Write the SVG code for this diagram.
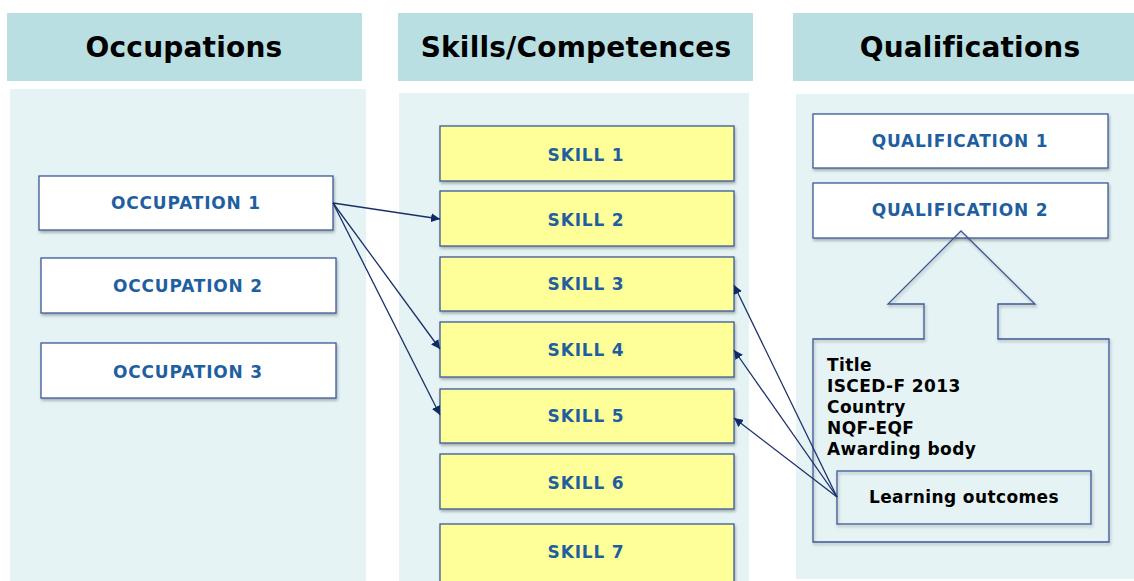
<svg xmlns="http://www.w3.org/2000/svg" width="1134" height="581" viewBox="0 0 1134 581">
<style>
.hdr{fill:#b9dfe2}
.hdrt{font-family:"DejaVu Sans",Verdana,sans-serif;font-weight:bold;font-size:28px;letter-spacing:0.2px;fill:#000;text-anchor:middle}
.panel{fill:#e6f3f4}
.box{fill:#fff;stroke:#3b5998;stroke-width:1.3}
.skill{fill:#ffff99;stroke:#3b5998;stroke-width:1.3}
.lbl{font-family:"DejaVu Sans",Verdana,sans-serif;font-weight:bold;font-size:17px;letter-spacing:0.8px;fill:#1f5f9f;text-anchor:middle}
.blk{font-family:"DejaVu Sans",Verdana,sans-serif;font-weight:bold;font-size:17px;letter-spacing:0.4px;fill:#000}
.conn{stroke:#1b2f6b;stroke-width:1.3;fill:none;marker-end:url(#ah)}
.outline{fill:none;stroke:#3b5998;stroke-width:1.3}
</style>
<defs>
<marker id="ah" viewBox="0 0 10 10" refX="10" refY="5" markerWidth="9" markerHeight="9" markerUnits="userSpaceOnUse" orient="auto">
<path d="M0,0 L10,5 L0,10 z" fill="#0f2a66"/>
</marker>
<filter id="sh" x="-5%" y="-10%" width="110%" height="130%">
<feDropShadow dx="1" dy="2" stdDeviation="1.5" flood-color="#000" flood-opacity="0.3"/>
</filter>
</defs>
<rect width="1134" height="581" fill="#fff"/>
<g id="columns">
<rect class="hdr" x="7" y="13" width="355" height="68"/>
<text class="hdrt" x="184" y="57">Occupations</text>
<rect class="hdr" x="398" y="13" width="355" height="68"/>
<text class="hdrt" x="576" y="57">Skills/Competences</text>
<rect class="hdr" x="793" y="13" width="341" height="68"/>
<text class="hdrt" x="970" y="57">Qualifications</text>
<rect class="panel" x="10" y="89" width="356" height="492"/>
<rect class="panel" x="399" y="93" width="350" height="488"/>
<rect class="panel" x="796" y="94" width="338" height="485"/>
</g>
<g id="occupation1"><rect class="box" filter="url(#sh)" x="39" y="176" width="294" height="54"/><text class="lbl" x="186" y="209">OCCUPATION 1</text></g>
<g id="occupation2"><rect class="box" filter="url(#sh)" x="41" y="258" width="295" height="55"/><text class="lbl" x="188" y="292">OCCUPATION 2</text></g>
<g id="occupation3"><rect class="box" filter="url(#sh)" x="41" y="343" width="295" height="55"/><text class="lbl" x="188" y="378">OCCUPATION 3</text></g>
<g id="skill1"><rect class="skill" filter="url(#sh)" x="440" y="126" width="294" height="55"/><text class="lbl" x="586" y="161">SKILL 1</text></g>
<g id="skill2"><rect class="skill" filter="url(#sh)" x="440" y="191" width="294" height="55"/><text class="lbl" x="586" y="226">SKILL 2</text></g>
<g id="skill3"><rect class="skill" filter="url(#sh)" x="440" y="257" width="294" height="54"/><text class="lbl" x="586" y="290">SKILL 3</text></g>
<g id="skill4"><rect class="skill" filter="url(#sh)" x="440" y="322" width="294" height="55"/><text class="lbl" x="586" y="356">SKILL 4</text></g>
<g id="skill5"><rect class="skill" filter="url(#sh)" x="440" y="389" width="294" height="54"/><text class="lbl" x="586" y="422">SKILL 5</text></g>
<g id="skill6"><rect class="skill" filter="url(#sh)" x="440" y="454" width="294" height="55"/><text class="lbl" x="586" y="489">SKILL 6</text></g>
<g id="skill7"><rect class="skill" filter="url(#sh)" x="440" y="524" width="294" height="60"/><text class="lbl" x="586" y="558">SKILL 7</text></g>
<g id="qualification1"><rect class="box" filter="url(#sh)" x="813" y="114" width="295" height="54"/><text class="lbl" x="960" y="147">QUALIFICATION 1</text></g>
<g id="qualification2"><rect class="box" filter="url(#sh)" x="813" y="183" width="295" height="55"/><text class="lbl" x="960" y="216">QUALIFICATION 2</text></g>
<g id="qualification-detail">
<path class="outline" filter="url(#sh)" d="M961,231 L1035,304 L998,304 L998,339 L1109,339 L1109,542 L813,542 L813,339 L924,339 L924,304 L888,304 Z"/>
<text class="blk" x="827" y="371">Title</text>
<text class="blk" x="827" y="392">ISCED-F 2013</text>
<text class="blk" x="827" y="413">Country</text>
<text class="blk" x="827" y="434">NQF-EQF</text>
<text class="blk" x="827" y="455">Awarding body</text>
</g>
<g id="learning-outcomes"><rect class="outline" filter="url(#sh)" x="837" y="471" width="254" height="53"/><text class="blk" x="964" y="503" text-anchor="middle">Learning outcomes</text></g>
<g id="connectors">
<line class="conn" x1="333" y1="203" x2="440" y2="219"/>
<line class="conn" x1="333" y1="203" x2="440" y2="349"/>
<line class="conn" x1="333" y1="203" x2="440" y2="415"/>
<line class="conn" x1="837" y1="497" x2="734" y2="285"/>
<line class="conn" x1="837" y1="497" x2="734" y2="350"/>
<line class="conn" x1="837" y1="497" x2="734" y2="418"/>
</g>
</svg>
